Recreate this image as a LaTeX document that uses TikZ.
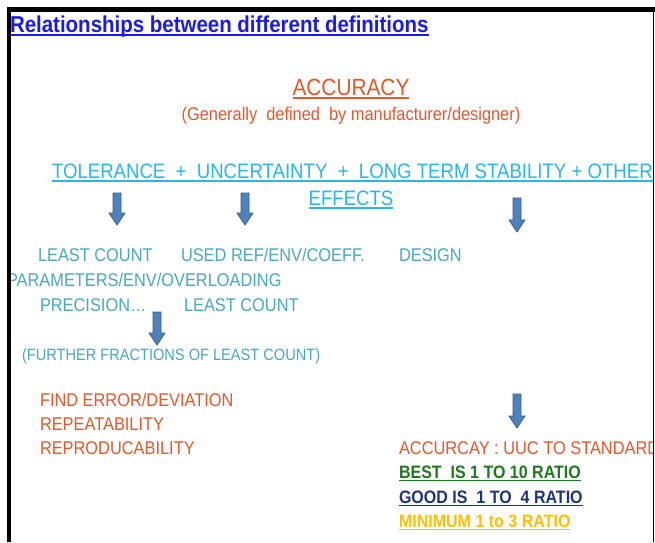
\documentclass[tikz,border=0pt]{standalone}
\usepackage{fontspec}
\usepackage{graphicx}
\setmainfont{Liberation Sans}
\definecolor{titleblue}{RGB}{26,26,240}
\definecolor{accorange}{RGB}{228,88,44}
\definecolor{lightblue}{RGB}{40,182,238}
\definecolor{tealtxt}{RGB}{72,168,190}
\definecolor{bestgreen}{RGB}{30,120,30}
\definecolor{goodnavy}{RGB}{30,52,118}
\definecolor{mingold}{RGB}{255,192,0}
\definecolor{arrfill}{RGB}{79,129,189}
\definecolor{arrline}{RGB}{56,93,138}
\newcommand\sq[1]{\scalebox{0.89}[1]{#1}}
\newcommand\fs[1]{\fontsize{#1}{#1}\selectfont}
\newsavebox\myulbox
\newcommand\myul[1]{\sbox\myulbox{#1}\rlap{\rule[-0.17em]{\wd\myulbox}{0.065em}}\usebox\myulbox}
\tikzset{
  txt/.style={anchor=base west, inner sep=0pt, outer sep=0pt},
  ctxt/.style={anchor=base, inner sep=0pt, outer sep=0pt},
  pics/downarr/.style={code={
    \path[fill=arrfill, draw=arrline, line width=0.7pt, line join=miter]
      (-4,0) -- (4,0) -- (4,#1-12) -- (8,#1-12) -- (0,#1) -- (-8,#1-12) -- (-4,#1-12) -- cycle;
  }}
}
\begin{document}
\begin{tikzpicture}[x=1pt,y=-1pt]
\useasboundingbox[fill=white] (0,0) rectangle (655,542);
\begin{scope}
\clip (11,12) rectangle (653,542);
% title
\node[txt, text=titleblue] (title) at (10,32) {\sq{\fs{23}\bfseries\myul{Relationships between different definitions}}};
% accuracy
\node[ctxt, text=accorange] (acc) at (351,95) {\sq{\fs{23.4}\myul{ACCURACY}}};
\node[ctxt, text=accorange] (gen) at (351,120) {\sq{\fs{18.4}(Generally\ \ defined\ \ by manufacturer/designer)}};
% sum line
\node[txt, text=lightblue] (sum) at (52,178) {\sq{\fs{20.9}\myul{TOLERANCE\ \ +\ \ UNCERTAINTY\ \ +\ \ LONG TERM STABILITY + OTHER}}};
\node[ctxt, text=lightblue] (eff) at (351,205) {\sq{\fs{20.9}\myul{EFFECTS}}};
% arrows
\pic at (117,193) {downarr=32};
\pic at (245,193) {downarr=32};
\pic at (517,198) {downarr=34};
\pic at (157,312) {downarr=33};
\pic at (517,394) {downarr=34};
% teal texts
\node[txt, text=tealtxt] (lc1) at (38,261) {\sq{\fs{18.4}LEAST COUNT}};
\node[txt, text=tealtxt] (used) at (181,261) {\sq{\fs{18.4}USED REF/ENV/COEFF.}};
\node[txt, text=tealtxt] (design) at (399,261) {\sq{\fs{18.4}DESIGN}};
\node[txt, text=tealtxt] (param) at (7,286) {\sq{\fs{18.4}PARAMETERS/ENV/OVERLOADING}};
\node[txt, text=tealtxt] (prec) at (40,311) {\sq{\fs{18.4}PRECISION…}};
\node[txt, text=tealtxt] (lc2) at (184,311) {\sq{\fs{18.4}LEAST COUNT}};
\node[txt, text=tealtxt] (further) at (22,360) {\sq{\fs{16.4}(FURTHER FRACTIONS OF LEAST COUNT)}};
% orange list
\node[txt, text=accorange] (find) at (40,406) {\sq{\fs{18.4}FIND ERROR/DEVIATION}};
\node[txt, text=accorange] (rep) at (40,430) {\sq{\fs{18.4}REPEATABILITY}};
\node[txt, text=accorange] (repro) at (40,454) {\sq{\fs{18.4}REPRODUCABILITY}};
\node[txt, text=accorange] (uuc) at (399,454) {\sq{\fs{18.4}ACCURCAY : UUC TO STANDARD}};
% ratios
\node[txt, text=bestgreen] (best) at (399,478) {\sq{\fs{18}\bfseries\myul{BEST\ \ IS 1 TO 10 RATIO}}};
\node[txt, text=goodnavy] (good) at (399,503) {\sq{\fs{18}\bfseries\myul{GOOD IS\ \ 1 TO\ \ 4 RATIO}}};
\node[txt, text=mingold] (min) at (399,527) {\sq{\fs{18}\bfseries\myul{MINIMUM 1 to 3 RATIO}}};
\end{scope}
% frame
\fill[black] (7,7) rectangle (655,12);
\fill[black] (7,7) rectangle (11,542);
\draw[black, line width=1.2pt] (653.4,12) -- (653.4,542);
\end{tikzpicture}
\end{document}
